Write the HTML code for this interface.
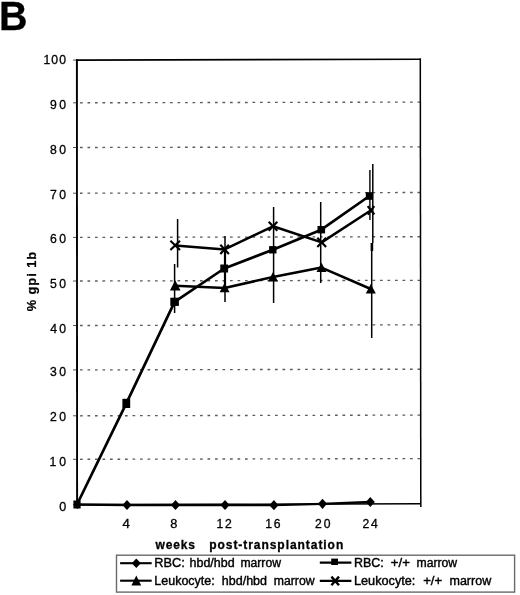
<!DOCTYPE html>
<html><head><meta charset="utf-8"><title>B</title>
<style>html,body{margin:0;padding:0;background:#fff}svg{display:block}</style></head>
<body>
<svg width="520" height="595" viewBox="0 0 520 595">
<rect width="520" height="595" fill="#fff"/>
<line x1="80" y1="459.3" x2="420.6" y2="458.6" stroke="#5c5c5c" stroke-width="1.35" stroke-dasharray="2.7 4.8"/>
<line x1="80" y1="415.8" x2="420.6" y2="415.1" stroke="#5c5c5c" stroke-width="1.35" stroke-dasharray="2.7 4.8"/>
<line x1="80" y1="369.9" x2="420.6" y2="369.2" stroke="#5c5c5c" stroke-width="1.35" stroke-dasharray="2.7 4.8"/>
<line x1="80" y1="325.5" x2="420.6" y2="324.8" stroke="#5c5c5c" stroke-width="1.35" stroke-dasharray="2.7 4.8"/>
<line x1="80" y1="281.0" x2="420.6" y2="280.3" stroke="#5c5c5c" stroke-width="1.35" stroke-dasharray="2.7 4.8"/>
<line x1="80" y1="237.4" x2="420.6" y2="236.70000000000002" stroke="#5c5c5c" stroke-width="1.35" stroke-dasharray="2.7 4.8"/>
<line x1="80" y1="193.2" x2="420.6" y2="192.5" stroke="#5c5c5c" stroke-width="1.35" stroke-dasharray="2.7 4.8"/>
<line x1="80" y1="147.5" x2="420.6" y2="146.8" stroke="#5c5c5c" stroke-width="1.35" stroke-dasharray="2.7 4.8"/>
<line x1="80" y1="102.8" x2="420.6" y2="102.1" stroke="#5c5c5c" stroke-width="1.35" stroke-dasharray="2.7 4.8"/>
<line x1="73" y1="504.5" x2="77" y2="504.5" stroke="#555" stroke-width="1"/>
<line x1="73" y1="459.3" x2="77" y2="459.3" stroke="#555" stroke-width="1"/>
<line x1="73" y1="415.8" x2="77" y2="415.8" stroke="#555" stroke-width="1"/>
<line x1="73" y1="369.9" x2="77" y2="369.9" stroke="#555" stroke-width="1"/>
<line x1="73" y1="325.5" x2="77" y2="325.5" stroke="#555" stroke-width="1"/>
<line x1="73" y1="281.0" x2="77" y2="281.0" stroke="#555" stroke-width="1"/>
<line x1="73" y1="237.4" x2="77" y2="237.4" stroke="#555" stroke-width="1"/>
<line x1="73" y1="193.2" x2="77" y2="193.2" stroke="#555" stroke-width="1"/>
<line x1="73" y1="147.5" x2="77" y2="147.5" stroke="#555" stroke-width="1"/>
<line x1="73" y1="102.8" x2="77" y2="102.8" stroke="#555" stroke-width="1"/>
<line x1="73" y1="60.1" x2="77" y2="60.1" stroke="#555" stroke-width="1"/>
<path d="M77.1 505.5 L76.9 59.3" fill="none" stroke="#000" stroke-width="1.9"/>
<path d="M76 60.1 L421 59.2" fill="none" stroke="#000" stroke-width="1.6"/>
<path d="M420.3 58.5 L420.8 507" fill="none" stroke="#000" stroke-width="1.5"/>
<line x1="77" y1="504.8" x2="420.8" y2="503.8" stroke="#000" stroke-width="1.6"/>
<line x1="177.6" y1="219" x2="177.6" y2="267.5" stroke="#000" stroke-width="1.5"/>
<line x1="174.6" y1="264" x2="174.6" y2="313" stroke="#000" stroke-width="1.5"/>
<line x1="225" y1="236" x2="225" y2="302" stroke="#000" stroke-width="1.5"/>
<line x1="225" y1="249" x2="225" y2="289" stroke="#000" stroke-width="2.2"/>
<line x1="273.6" y1="207" x2="273.6" y2="303" stroke="#000" stroke-width="1.5"/>
<line x1="320.7" y1="202" x2="320.7" y2="283" stroke="#000" stroke-width="1.5"/>
<line x1="369.9" y1="170" x2="369.9" y2="220" stroke="#000" stroke-width="1.4"/>
<line x1="372.8" y1="164" x2="372.8" y2="243" stroke="#000" stroke-width="1.5"/>
<line x1="371.9" y1="243" x2="371.9" y2="251" stroke="#000" stroke-width="2.6"/>
<line x1="371.7" y1="251" x2="371.7" y2="338" stroke="#000" stroke-width="1.5"/>
<polyline points="77,504.5 127,505 175.5,505 225,505 273.9,505.2 322.5,503.8 370.3,502" fill="none" stroke="#000" stroke-width="2.3" stroke-linejoin="round"/>
<polyline points="77,504.5 126.3,403.4 174.6,301.8 224.2,268.5 272.8,249.8 321.3,229.7 369.4,196" fill="none" stroke="#000" stroke-width="2.7" stroke-linejoin="round"/>
<polyline points="175.2,285.7 224.6,288 273,277 321.5,267.6 370.8,289" fill="none" stroke="#000" stroke-width="2.5" stroke-linejoin="round"/>
<polyline points="175.2,245.4 224.6,249.4 273,226.3 321.7,242.4 371,210.3" fill="none" stroke="#000" stroke-width="2.5" stroke-linejoin="round"/>
<path d="M122.5 505 L127 499.9 L131.5 505 L127 510.1Z" fill="#000"/>
<path d="M171.0 505 L175.5 499.9 L180.0 505 L175.5 510.1Z" fill="#000"/>
<path d="M220.5 505 L225 499.9 L229.5 505 L225 510.1Z" fill="#000"/>
<path d="M269.4 505.2 L273.9 500.09999999999997 L278.4 505.2 L273.9 510.3Z" fill="#000"/>
<path d="M318.0 503.8 L322.5 498.7 L327.0 503.8 L322.5 508.90000000000003Z" fill="#000"/>
<path d="M365.8 502 L370.3 496.9 L374.8 502 L370.3 507.1Z" fill="#000"/>
<path d="M73.7 504.8 L77.3 500.6 L80.89999999999999 504.8 L77.3 509.0Z" fill="#000"/>
<rect x="73.4" y="500.5" width="7.2" height="8.0" fill="#000"/>
<rect x="122.39999999999999" y="398.79999999999995" width="7.8" height="9.2" fill="#000"/>
<rect x="170.29999999999998" y="297.7" width="8.6" height="8.2" fill="#000"/>
<rect x="220.29999999999998" y="264.5" width="7.8" height="8.0" fill="#000"/>
<rect x="269.1" y="246.10000000000002" width="7.4" height="7.4" fill="#000"/>
<rect x="317.5" y="226.0" width="7.6" height="7.4" fill="#000"/>
<rect x="365.79999999999995" y="192.2" width="7.2" height="7.6" fill="#000"/>
<path d="M169.89999999999998 290.5 L175.2 280.29999999999995 L180.5 290.5Z" fill="#000"/>
<path d="M219.6 292.3 L224.6 283.09999999999997 L229.6 292.3Z" fill="#000"/>
<path d="M268.0 281.4 L273 272.0 L278.0 281.4Z" fill="#000"/>
<path d="M316.5 271.90000000000003 L321.5 262.7 L326.5 271.90000000000003Z" fill="#000"/>
<path d="M365.8 293.5 L370.8 283.9 L375.8 293.5Z" fill="#000"/>
<path d="M170.39999999999998 240.8 L180.0 250.0 M180.0 240.8 L170.39999999999998 250.0" stroke="#000" stroke-width="2.2" fill="none"/>
<path d="M220.29999999999998 244.8 L228.9 254.0 M228.9 244.8 L220.29999999999998 254.0" stroke="#000" stroke-width="2.2" fill="none"/>
<path d="M268.7 221.8 L277.3 230.8 M277.3 221.8 L268.7 230.8" stroke="#000" stroke-width="2.2" fill="none"/>
<path d="M317.3 237.8 L326.09999999999997 247.0 M326.09999999999997 237.8 L317.3 247.0" stroke="#000" stroke-width="2.2" fill="none"/>
<path d="M367.7 206.10000000000002 L374.3 214.5 M374.3 206.10000000000002 L367.7 214.5" stroke="#000" stroke-width="2.2" fill="none"/>
<text x="-1.05" y="30.2" font-family="Liberation Sans, Arial, Helvetica, sans-serif" font-weight="bold" font-size="40.5" textLength="28.53" lengthAdjust="spacingAndGlyphs" stroke="#000" stroke-width="0.3">B</text>
<text x="59.21" y="510.6" font-family="Liberation Sans, Arial, Helvetica, sans-serif" font-size="12.2" textLength="6.98" lengthAdjust="spacingAndGlyphs" stroke="#000" stroke-width="0.3">0</text>
<text x="49.57" y="466.1" font-family="Liberation Sans, Arial, Helvetica, sans-serif" font-size="12.2" letter-spacing="2.937" stroke="#000" stroke-width="0.3">10</text>
<text x="49.89" y="421.4" font-family="Liberation Sans, Arial, Helvetica, sans-serif" font-size="12.2" letter-spacing="2.619" stroke="#000" stroke-width="0.3">20</text>
<text x="50.04" y="375.7" font-family="Liberation Sans, Arial, Helvetica, sans-serif" font-size="12.2" letter-spacing="2.473" stroke="#000" stroke-width="0.3">30</text>
<text x="50.22" y="332.5" font-family="Liberation Sans, Arial, Helvetica, sans-serif" font-size="12.2" letter-spacing="2.290" stroke="#000" stroke-width="0.3">40</text>
<text x="50.01" y="287.9" font-family="Liberation Sans, Arial, Helvetica, sans-serif" font-size="12.2" letter-spacing="2.497" stroke="#000" stroke-width="0.3">50</text>
<text x="49.88" y="243.4" font-family="Liberation Sans, Arial, Helvetica, sans-serif" font-size="12.2" letter-spacing="2.632" stroke="#000" stroke-width="0.3">60</text>
<text x="49.88" y="198.6" font-family="Liberation Sans, Arial, Helvetica, sans-serif" font-size="12.2" letter-spacing="2.632" stroke="#000" stroke-width="0.3">70</text>
<text x="49.98" y="154.3" font-family="Liberation Sans, Arial, Helvetica, sans-serif" font-size="12.2" letter-spacing="2.534" stroke="#000" stroke-width="0.3">80</text>
<text x="49.93" y="109.3" font-family="Liberation Sans, Arial, Helvetica, sans-serif" font-size="12.2" letter-spacing="2.583" stroke="#000" stroke-width="0.3">90</text>
<text x="43.47" y="64.4" font-family="Liberation Sans, Arial, Helvetica, sans-serif" font-size="12.2" letter-spacing="1.127" stroke="#000" stroke-width="0.3">100</text>
<text x="122.59" y="527.6" font-family="Liberation Sans, Arial, Helvetica, sans-serif" font-size="12.2" textLength="7.39" lengthAdjust="spacingAndGlyphs" stroke="#000" stroke-width="0.3">4</text>
<text x="170.25" y="527.6" font-family="Liberation Sans, Arial, Helvetica, sans-serif" font-size="12.2" textLength="7.10" lengthAdjust="spacingAndGlyphs" stroke="#000" stroke-width="0.3">8</text>
<text x="216.57" y="527.6" font-family="Liberation Sans, Arial, Helvetica, sans-serif" font-size="12.2" letter-spacing="1.771" stroke="#000" stroke-width="0.3">12</text>
<text x="265.37" y="527.6" font-family="Liberation Sans, Arial, Helvetica, sans-serif" font-size="12.2" letter-spacing="1.598" stroke="#000" stroke-width="0.3">16</text>
<text x="314.89" y="527.6" font-family="Liberation Sans, Arial, Helvetica, sans-serif" font-size="12.2" letter-spacing="2.019" stroke="#000" stroke-width="0.3">20</text>
<text x="362.39" y="527.6" font-family="Liberation Sans, Arial, Helvetica, sans-serif" font-size="12.2" letter-spacing="1.897" stroke="#000" stroke-width="0.3">24</text>
<text x="155.54" y="548.8" font-family="Liberation Sans, Arial, Helvetica, sans-serif" font-weight="bold" font-size="12" letter-spacing="0.858" stroke="#000" stroke-width="0.3">weeks</text>
<text x="209.21" y="548.8" font-family="Liberation Sans, Arial, Helvetica, sans-serif" font-weight="bold" font-size="12" letter-spacing="0.949" stroke="#000" stroke-width="0.3">post-transplantation</text>
<text transform="translate(35.8 311.3) rotate(-90)" font-family="Liberation Sans, Arial, Helvetica, sans-serif" font-weight="bold" font-size="12.8" textLength="59.4" lengthAdjust="spacing" stroke="#000" stroke-width="0.25">% gpi 1b</text>
<rect x="116.5" y="555.2" width="398.1" height="36.9" fill="#fff" stroke="#6a6a6a" stroke-width="1.4"/>
<line x1="120.1" y1="563.2" x2="151.7" y2="563.2" stroke="#000" stroke-width="2.1"/>
<path d="M131.79999999999998 563.2 L136.29999999999998 558.5 L140.79999999999998 563.2 L136.29999999999998 567.9000000000001Z" fill="#000"/>
<line x1="120.1" y1="580.7" x2="151.7" y2="580.7" stroke="#000" stroke-width="2.1"/>
<path d="M131.39999999999998 585.5 L136.29999999999998 575.4 L141.2 585.5Z" fill="#000"/>
<line x1="319.8" y1="562.6" x2="351.40000000000003" y2="562.6" stroke="#000" stroke-width="2.1"/>
<rect x="331.20000000000005" y="558.6" width="6.8" height="6.4" fill="#000"/>
<line x1="319.8" y1="580.9" x2="351.40000000000003" y2="580.9" stroke="#000" stroke-width="2.1"/>
<path d="M331.4 576.6 L339.0 585.1999999999999 M339.0 576.6 L331.4 585.1999999999999" stroke="#000" stroke-width="2.4" fill="none"/>
<text x="154.35" y="567.3" font-family="Liberation Sans, Arial, Helvetica, sans-serif" font-size="12.3" textLength="30.51" lengthAdjust="spacingAndGlyphs" stroke="#000" stroke-width="0.4">RBC:</text>
<text x="189.54" y="567.3" font-family="Liberation Sans, Arial, Helvetica, sans-serif" font-size="12.3" textLength="45.05" lengthAdjust="spacingAndGlyphs" stroke="#000" stroke-width="0.4">hbd/hbd</text>
<text x="240.40" y="567.3" font-family="Liberation Sans, Arial, Helvetica, sans-serif" font-size="12.3" textLength="40.59" lengthAdjust="spacingAndGlyphs" stroke="#000" stroke-width="0.4">marrow</text>
<text x="154.38" y="585.3" font-family="Liberation Sans, Arial, Helvetica, sans-serif" font-size="12.3" textLength="60.25" lengthAdjust="spacingAndGlyphs" stroke="#000" stroke-width="0.4">Leukocyte:</text>
<text x="221.84" y="585.3" font-family="Liberation Sans, Arial, Helvetica, sans-serif" font-size="12.3" textLength="45.16" lengthAdjust="spacingAndGlyphs" stroke="#000" stroke-width="0.4">hbd/hbd</text>
<text x="273.79" y="585.3" font-family="Liberation Sans, Arial, Helvetica, sans-serif" font-size="12.3" textLength="40.79" lengthAdjust="spacingAndGlyphs" stroke="#000" stroke-width="0.4">marrow</text>
<text x="353.98" y="567.3" font-family="Liberation Sans, Arial, Helvetica, sans-serif" font-size="12.3" textLength="29.86" lengthAdjust="spacingAndGlyphs" stroke="#000" stroke-width="0.4">RBC:</text>
<text x="390.86" y="567.3" font-family="Liberation Sans, Arial, Helvetica, sans-serif" font-size="12.3" textLength="18.98" lengthAdjust="spacingAndGlyphs" stroke="#000" stroke-width="0.4">+/+</text>
<text x="416.49" y="567.3" font-family="Liberation Sans, Arial, Helvetica, sans-serif" font-size="12.3" textLength="40.69" lengthAdjust="spacingAndGlyphs" stroke="#000" stroke-width="0.4">marrow</text>
<text x="353.96" y="585.3" font-family="Liberation Sans, Arial, Helvetica, sans-serif" font-size="12.3" textLength="61.39" lengthAdjust="spacingAndGlyphs" stroke="#000" stroke-width="0.4">Leukocyte:</text>
<text x="423.16" y="585.3" font-family="Liberation Sans, Arial, Helvetica, sans-serif" font-size="12.3" textLength="18.98" lengthAdjust="spacingAndGlyphs" stroke="#000" stroke-width="0.4">+/+</text>
<text x="449.47" y="585.3" font-family="Liberation Sans, Arial, Helvetica, sans-serif" font-size="12.3" textLength="41.71" lengthAdjust="spacingAndGlyphs" stroke="#000" stroke-width="0.4">marrow</text>
</svg>
</body></html>
